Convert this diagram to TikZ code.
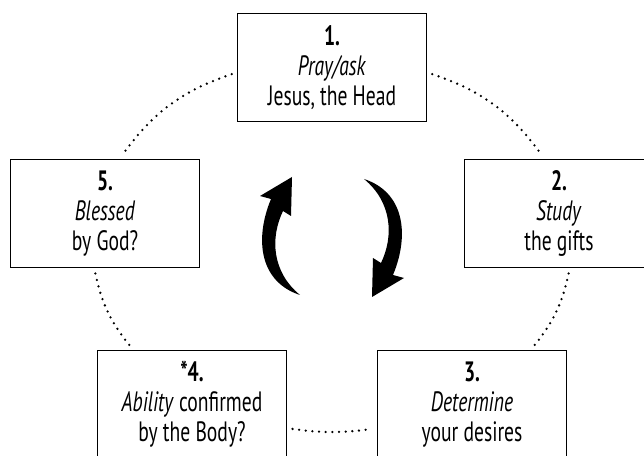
\documentclass[tikz,border=0pt]{standalone}
\usepackage{fontspec}
\setmainfont[FakeStretch=0.7]{PT Sans}
\usetikzlibrary{positioning}

\tikzstyle{stepbox} = [rectangle, draw=black, line width=1.1pt, minimum width=141.75pt, minimum height=81pt, inner sep=0pt, align=center, font=\fontsize{21}{22.5}\selectfont]
\tikzstyle{link} = [line width=1.9pt, line cap=round, dash pattern=on 0pt off 5pt, shorten <=4pt, shorten >=4pt]
\tikzstyle{turn} = [fill=black]

\begin{document}
\begin{tikzpicture}[x=0.75pt, y=-0.75pt, on grid]
    \clip (0,0) rectangle (644,456);

    % Boxes
    \node (s1) [stepbox] at (332,67.5) {\textbf{1.}\\\textit{Pray/ask}\\Jesus, the Head};
    \node (s2) [stepbox, below right=109.5pt and 170.25pt of s1] {\textbf{2.}\\\textit{Study}\\the gifts};
    \node (s3) [stepbox, below right=252.75pt and 105pt of s1] {\textbf{3.}\\\textit{Determine}\\your desires};
    \node (s4) [stepbox, below left=252.75pt and 105pt of s1] {\textbf{*4.}\\\textit{Ability} confirmed\\by the Body?};
    \node (s5) [stepbox, below left=109.5pt and 170.25pt of s1] {\textbf{5.}\\\textit{Blessed}\\by God?};

    % Dotted links
    \draw [link] (s1.183) to[bend right=18] (s5.75);
    \draw [link] (s1.357) to[bend left=18] (s2.105);
    \draw [link] (s5.259) to[bend right=14] (s4.137);
    \draw [link] (s2.281) to[bend left=14] (s3.43);
    \draw [link] (s4.346) to[bend right=8] (s3.194);

    % Turning arrows
    \foreach \a in {0,180}
        \fill [turn, rotate around={\a:(332,237)}] (300,295) .. controls (260,282) and (254,240) .. (271,199)
            -- (260,196) -- (292,177) -- (291,216) -- (283,211)
            .. controls (270,238) and (272,272) .. (300,295) -- cycle;

\end{tikzpicture}
\end{document}
